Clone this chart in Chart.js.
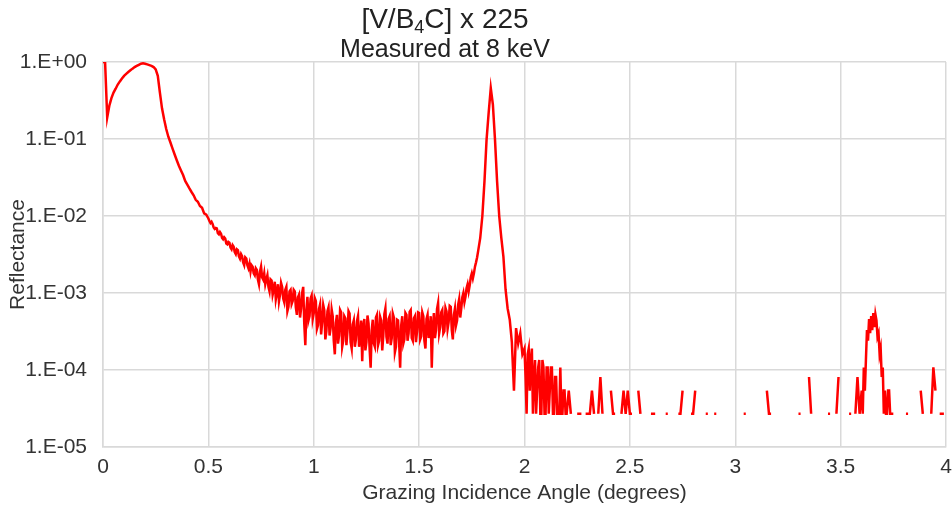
<!DOCTYPE html>
<html>
<head>
<meta charset="utf-8">
<title>[V/B4C] x 225 reflectivity</title>
<script src="https://cdn.jsdelivr.net/npm/chart.js@4.4.1/dist/chart.umd.min.js"></script>
<style>
    html, body { margin: 0; padding: 0; background: #fff; }
    #wrap {
        position: relative;
        width: 952px;
        height: 512px;
        font-family: "Liberation Sans", Arial, sans-serif;
        color: #222;
    }
    #reflectivityChart { display: block; }
    .chart-title {
        position: absolute;
        left: 0;
        width: 890px;
        text-align: center;
        white-space: nowrap;
    }
    #mainTitle { top: 2px; font-size: 28px; line-height: 34px; }
    #mainTitle sub { font-size: 18px; vertical-align: -5px; line-height: 0; }
    #subTitle { top: 34px; font-size: 25px; line-height: 28px; }
</style>
</head>
<body>
<div id="wrap">
    <canvas id="reflectivityChart" width="952" height="512"></canvas>
    <div class="chart-title" id="mainTitle">[V/B<sub>4</sub>C] x 225</div>
    <div class="chart-title" id="subTitle">Measured at 8 keV</div>
</div>
<script>
/* ================================
   REFLECTIVITY SCAN DATA
   ================================ */

// 0.00 - 0.49 deg, step 0.01 : total reflection plateau and critical edge
const reflCritical = [
    1.0, 0.98, 0.19, 0.27, 0.34, 0.40, 0.45, 0.51, 0.56, 0.61,
    0.66, 0.70, 0.74, 0.78, 0.82, 0.86, 0.89, 0.92, 0.95, 0.96,
    0.95, 0.93, 0.91, 0.89, 0.86, 0.80, 0.66, 0.40, 0.25, 0.18,
    0.135, 0.107, 0.090, 0.075, 0.063, 0.053, 0.045, 0.039, 0.034, 0.0285,
    0.0255, 0.0228, 0.0205, 0.0186, 0.0162, 0.0153, 0.0135, 0.0128, 0.0108, 0.0104
];

// 0.50 - 1.78 deg, step 0.005 : noisy decay down to the trough
const reflTrough = [
    9.3e-3, 8.6e-3, 8.1e-3, 8.4e-3, 7.9e-3, 7.1e-3, 6.8e-3, 7.0e-3, 6.9e-3, 6.0e-3,
    5.8e-3, 6.2e-3, 5.9e-3, 5.2e-3, 5.0e-3, 5.3e-3, 5.1e-3, 4.4e-3, 4.3e-3, 4.6e-3,
    4.5e-3, 3.9e-3, 3.7e-3, 4.2e-3, 4.0e-3, 3.4e-3, 3.2e-3, 3.7e-3, 3.6e-3, 3.0e-3,
    2.8e-3, 3.2e-3, 3.0e-3, 2.5e-3, 2.3e-3, 2.9e-3, 2.8e-3, 2.3e-3, 2.1e-3, 2.4e-3,
    1.9e-3, 2.3e-3, 2.2e-3, 1.8e-3, 1.7e-3, 2.1e-3, 2.0e-3, 1.5e-3, 1.3e-3, 1.9e-3,
    2.2e-3, 1.6e-3, 1.5e-3, 1.8e-3, 1.3e-3, 1.5e-3, 1.7e-3, 1.2e-3, 1.05e-3, 1.5e-3,
    1.45e-3, 9.5e-4, 1.1e-3, 1.4e-3, 8.3e-4, 1.0e-3, 1.3e-3, 7.8e-4, 9.5e-4, 1.35e-3,
    1.2e-3, 8.5e-4, 7.6e-4, 1.1e-3, 1.2e-3, 5.8e-4, 6.6e-4, 1.05e-3, 1.1e-3, 7.2e-4,
    7.9e-4, 1.1e-3, 1.05e-3, 6.5e-4, 5.2e-4, 8.8e-4, 9.5e-4, 4.8e-4, 6.3e-4, 1.0e-3,
    1.2e-3, 4.0e-4, 2.1e-4, 6.0e-4, 8.9e-4, 4.4e-4, 5.0e-4, 8.5e-4, 9.3e-4, 4.6e-4,
    5.5e-4, 8.6e-4, 7.9e-4, 3.4e-4, 3.8e-4, 6.2e-4, 7.1e-4, 2.9e-4, 4.2e-4, 7.0e-4,
    6.0e-4, 2.5e-4, 3.2e-4, 5.8e-4, 6.5e-4, 2.8e-4, 3.5e-4, 6.1e-4, 5.0e-4, 2.4e-4,
    1.6e-4, 4.1e-4, 5.2e-4, 2.2e-4, 2.8e-4, 6.0e-4, 5.6e-4, 2.0e-4, 2.4e-4, 5.0e-4,
    4.7e-4, 2.1e-4, 3.2e-4, 5.8e-4, 5.4e-4, 2.3e-4, 1.9e-4, 3.9e-4, 4.4e-4, 2.0e-4,
    2.5e-4, 4.3e-4, 5.0e-4, 2.0e-4, 2.6e-4, 4.4e-4, 1.3e-4, 3.6e-4, 4.6e-4, 1.8e-4,
    2.3e-4, 5.1e-4, 4.0e-4, 1.9e-4, 1.07e-4, 3.3e-4, 4.5e-4, 2.2e-4, 2.0e-4, 4.8e-4,
    5.2e-4, 2.1e-4, 2.4e-4, 4.9e-4, 4.4e-4, 1.8e-4, 2.8e-4, 5.3e-4, 6.3e-4, 2.7e-4,
    2.2e-4, 4.6e-4, 5.0e-4, 2.1e-4, 2.6e-4, 5.4e-4, 4.8e-4, 1.7e-4, 2.0e-4, 4.5e-4,
    4.4e-4, 2.3e-4, 1.07e-4, 3.8e-4, 5.0e-4, 2.2e-4, 2.5e-4, 5.5e-4, 5.2e-4, 2.4e-4,
    3.0e-4, 5.7e-4, 6.0e-4, 2.6e-4, 2.4e-4, 4.7e-4, 5.0e-4, 2.3e-4, 3.2e-4, 5.6e-4,
    5.5e-4, 2.5e-4, 2.75e-4, 5.6e-4, 5.0e-4, 2.4e-4, 1.9e-4, 4.6e-4, 5.2e-4, 2.6e-4,
    3.2e-4, 5.0e-4, 1.07e-4, 3.5e-4, 5.5e-4, 2.6e-4, 3.3e-4, 6.2e-4, 7.4e-4, 3.0e-4,
    3.6e-4, 5.6e-4, 6.0e-4, 3.0e-4, 3.2e-4, 6.4e-4, 5.75e-4, 3.4e-4, 4.2e-4, 6.8e-4,
    6.6e-4, 3.3e-4, 2.5e-4, 5.2e-4, 6.3e-4, 3.8e-4, 4.4e-4, 7.0e-4, 8.3e-4, 4.8e-4,
    6.3e-4, 8.8e-4, 1.0e-3, 7.6e-4, 8.9e-4, 1.15e-3, 1.3e-3, 1.05e-3, 1.26e-3, 1.6e-3,
    1.8e-3, 1.55e-3, 1.8e-3, 2.2e-3, 2.5e-3, 2.9e-3, 3.5e-3
];

// 1.79 - 1.99 deg, step 0.01 : first Bragg peak
const reflBraggPeak = [
    5.2e-3, 1.0e-2, 2.8e-2, 9.8e-2, 0.22, 0.46, 0.28, 0.098, 0.028, 0.010,
    5.2e-3, 2.95e-3, 1.12e-3, 6.3e-4, 4.5e-4, 2.3e-4, 5.4e-5, 3.5e-4, 2.2e-4, 3.0e-4,
    1.6e-4
];

// 2.00 - 2.195 deg, step 0.005 : falling into the counting floor
const reflTailNear = [
    1.9e-4, 8.1e-5, 2.7e-5, 1.6e-4, 1.9e-4, 5.4e-5, 1.35e-4, 1.9e-4, 2.7e-5, 8.1e-5,
    1.35e-4, 2.7e-5, 5.4e-5, 1.08e-4, 1.35e-4, 2.7e-5, 2.7e-5, 1.35e-4, 1.08e-4, 2.7e-5,
    2.7e-5, 1.08e-4, 1.08e-4, 2.7e-5, 5.4e-5, 1.08e-4, 1.08e-4, 2.7e-5, 2.7e-5, 8.1e-5,
    8.1e-5, 2.7e-5, 2.7e-5, 2.7e-5, 1.08e-4, 2.7e-5, 2.7e-5, 5.4e-5, 5.4e-5, 2.7e-5
];

// 2.20 - 3.59 deg, step 0.01 : counting floor, null = zero counts
const reflTail = [
    2.7e-5, 5.4e-5, 2.7e-5, null, null, 2.7e-5, 2.7e-5, 2.7e-5, null, 2.7e-5,
    2.7e-5, 2.7e-5, 5.4e-5, 2.7e-5, null, 2.7e-5, 8.1e-5, 2.7e-5, null, null,
    null, 5.4e-5, 2.7e-5, 2.7e-5, null, null, 2.7e-5, 5.4e-5, 2.7e-5, 5.4e-5,
    2.7e-5, 2.7e-5, null, null, 5.4e-5, 2.7e-5, null, null, null, null,
    2.7e-5, 2.7e-5, 2.7e-5, null, null, null, null, 2.7e-5, 2.7e-5, null,
    null, null, null, 2.7e-5, 2.7e-5, 5.4e-5, null, null, null, 2.7e-5,
    2.7e-5, 5.4e-5, null, null, null, null, 2.7e-5, 2.7e-5, null, null,
    2.7e-5, 2.7e-5, null, null, null, null, null, null, null, null,
    null, null, null, null, 2.7e-5, 2.7e-5, null, null, null, null,
    null, null, null, null, null, 5.4e-5, 2.7e-5, 2.7e-5, null, null,
    null, null, null, null, null, null, null, null, null, null,
    2.7e-5, 2.7e-5, null, null, null, 8.1e-5, 2.7e-5, null, null, null,
    null, null, null, null, 2.7e-5, 2.7e-5, null, null, 2.7e-5, 8.1e-5,
    null, null, null, null, 2.7e-5, 2.7e-5, null, 2.7e-5, 8.1e-5, 2.7e-5
];

// 3.60 - 3.745 deg, step 0.005 : second (weak) Bragg peak
const reflSecondPeak = [
    5.4e-5, 2.7e-5, 1.08e-4, 5.4e-5, 1.35e-4, 3.3e-4, 2.4e-4, 4.6e-4, 3.0e-4, 5.0e-4,
    3.3e-4, 5.5e-4, 3.6e-4, 5.3e-4, 4.4e-4, 2.7e-4, 3.0e-4, 1.6e-4, 1.9e-4, 8.1e-5,
    1.08e-4, 2.7e-5, 5.4e-5, 2.7e-5, 2.7e-5, 5.4e-5, 5.4e-5, 2.7e-5, 2.7e-5, 2.7e-5
];

// 3.75 - 4.00 deg, step 0.01 : counting floor
const reflTailFar = [
    2.7e-5, null, null, null, null, null, 2.7e-5, 2.7e-5, null, null,
    null, null, null, 5.4e-5, 2.7e-5, null, null, null, 2.7e-5, 1.08e-4,
    5.4e-5, null, 2.7e-5, 2.7e-5, 2.7e-5, null
];

// Axis ticks
const xTicks = [0, 0.5, 1, 1.5, 2, 2.5, 3, 3.5, 4];
const yTicks = [1e-5, 1e-4, 1e-3, 1e-2, 1e-1, 1];

// Start angle and angular step of each piece of the scan (degrees)
const scanSegments = [
    { start: 0.00, step: 0.01, values: reflCritical },
    { start: 0.50, step: 0.005, values: reflTrough },
    { start: 1.79, step: 0.01, values: reflBraggPeak },
    { start: 2.00, step: 0.005, values: reflTailNear },
    { start: 2.20, step: 0.01, values: reflTail },
    { start: 3.60, step: 0.005, values: reflSecondPeak },
    { start: 3.75, step: 0.01, values: reflTailFar }
];

document.addEventListener('DOMContentLoaded', function() {
    initializeReflectivityChart();
});

// Excel style exponent label, e.g. 1.E-03
function excelExponent(value) {
    const e = Math.round(Math.log10(value));
    return '1.E' + (e < 0 ? '-' : '+') + String(Math.abs(e)).padStart(2, '0');
}

function initializeReflectivityChart() {
    const ctx = document.getElementById('reflectivityChart');

    if (!ctx) return;

    const points = [];
    scanSegments.forEach(function(seg) {
        seg.values.forEach(function(v, i) {
            points.push({ x: +(seg.start + i * seg.step).toFixed(3), y: v });
        });
    });

    const axisFont = { family: '"Liberation Sans", Arial, sans-serif', size: 21 };
    const gridColor = '#d9d9d9';

    new Chart(ctx, {
        type: 'line',
        data: {
            datasets: [{
                label: 'Reflectance',
                data: points,
                borderColor: '#ff0000',
                borderWidth: 2.5,
                pointRadius: 0,
                tension: 0,
                spanGaps: false,
                fill: false
            }]
        },
        options: {
            responsive: false,
            animation: false,
            layout: {
                padding: { top: 62, right: 6, bottom: 0, left: 0 }
            },
            plugins: {
                legend: { display: false },
                tooltip: { enabled: false }
            },
            scales: {
                x: {
                    type: 'linear',
                    min: 0,
                    max: 4,
                    afterBuildTicks: function(scale) {
                        scale.ticks = xTicks.map(v => ({ value: v }));
                    },
                    afterFit: function(scale) {
                        scale.height = 65;
                        scale.paddingRight = 6;
                    },
                    ticks: {
                        callback: v => String(v),
                        font: axisFont,
                        color: '#333',
                        padding: 8,
                        maxRotation: 0,
                        autoSkip: false
                    },
                    grid: { color: gridColor, lineWidth: 1.5, drawTicks: false },
                    border: { color: gridColor, width: 1.5 },
                    title: {
                        display: true,
                        text: 'Grazing Incidence Angle (degrees)',
                        font: axisFont,
                        color: '#333',
                        padding: { top: 0, bottom: 6 }
                    }
                },
                y: {
                    type: 'logarithmic',
                    min: 1e-5,
                    max: 1,
                    afterBuildTicks: function(scale) {
                        scale.ticks = yTicks.map(v => ({ value: v }));
                    },
                    afterFit: function(scale) {
                        scale.width = 103;
                    },
                    ticks: {
                        callback: excelExponent,
                        font: axisFont,
                        color: '#333',
                        padding: 16,
                        autoSkip: false
                    },
                    grid: { color: gridColor, lineWidth: 1.5, drawTicks: false },
                    border: { color: gridColor, width: 1.5 },
                    title: {
                        display: true,
                        text: 'Reflectance',
                        font: axisFont,
                        color: '#333',
                        padding: { top: 6, bottom: 0 }
                    }
                }
            }
        }
    });
}
</script>
</body>
</html>
